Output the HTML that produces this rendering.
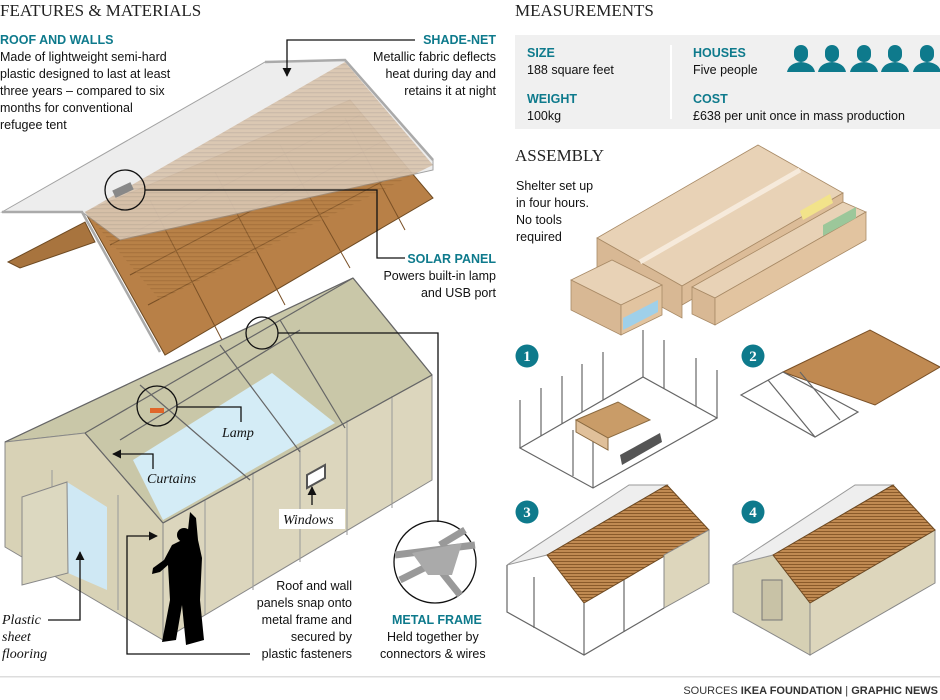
<!DOCTYPE html>
<html><head><meta charset="utf-8"><style>
html,body{margin:0;padding:0;background:#fff;width:940px;height:700px;overflow:hidden}
svg{display:block}
.h{font-family:"Liberation Serif",serif;font-size:17px;fill:#222}
.t{font-family:"Liberation Sans",sans-serif;font-size:12.5px;fill:#111}
.b{font-family:"Liberation Sans",sans-serif;font-size:12.5px;font-weight:bold;fill:#0e7a8c}
.i{font-family:"Liberation Serif",serif;font-style:italic;font-size:14px;fill:#111}
.ln{stroke:#111;stroke-width:1.3;fill:none}
.fr{stroke:#666;stroke-width:1.2;fill:none}
</style></head><body>
<svg width="940" height="700" viewBox="0 0 940 700" xmlns="http://www.w3.org/2000/svg">
<defs>
<marker id="a" viewBox="0 0 10 10" refX="9" refY="5" markerWidth="7" markerHeight="7" orient="auto"><path d="M0,0L10,5L0,10z" fill="#111"/></marker>
<pattern id="st" width="4" height="4" patternUnits="userSpaceOnUse"><rect width="4" height="4" fill="#b98248"/><rect width="4" height="1.3" fill="#8e5f2e"/></pattern>
<pattern id="st2" width="3" height="3" patternUnits="userSpaceOnUse"><rect width="3" height="3" fill="#c08a52"/><rect width="3" height="1" fill="#8a5a2a"/></pattern>
</defs>

<!-- MAIN ROOF -->
<polygon points="8,262 85,222 95,242 20,268" fill="#a8743e" stroke="#6e4a22"/>
<polygon points="85,212 350,100 433,198 165,355" fill="#b88047" stroke="#6e4a22"/>
<g stroke="#7a5026" stroke-width="1" fill="none">
<line x1="110" y1="245" x2="360" y2="115"/><line x1="130" y1="275" x2="385" y2="140"/><line x1="148" y1="305" x2="408" y2="168"/>
<line x1="150" y1="200" x2="222" y2="340"/><line x1="215" y1="172" x2="285" y2="305"/><line x1="280" y1="145" x2="350" y2="268"/><line x1="345" y1="118" x2="405" y2="230"/>
</g>
<polygon points="2,212 265,62 345,60 433,160 433,170 120,240 82,212" fill="#ececec" stroke="#999" opacity="0.9"/>
<polygon points="85,212 345,62 433,165 160,300" fill="url(#st)" opacity="0.35"/>
<polyline points="2,212 82,212 160,352" fill="none" stroke="#aaa" stroke-width="2.5"/>
<polyline points="265,62 345,60 433,160" fill="none" stroke="#aaa" stroke-width="2.5"/>
<rect x="113" y="186" width="20" height="8" fill="#888" transform="rotate(-25 123 190)"/>

<!-- MAIN HOUSE -->
<polygon points="5,442 353,278 432,375 163,523 85,433" fill="#c9c7a8" stroke="#888"/>
<polygon points="133,460 272,373 335,423 163,520" fill="#d4ecf6"/>
<polygon points="163,523 432,375 432,480 163,640" fill="#dcd6bd" stroke="#888"/>
<polygon points="5,442 85,433 163,523 163,640 5,547" fill="#d8d2b6" stroke="#888"/>
<g stroke="#999" stroke-width="1"><line x1="205" y1="500" x2="205" y2="615"/><line x1="253" y1="472" x2="253" y2="590"/><line x1="300" y1="446" x2="300" y2="562"/><line x1="347" y1="420" x2="347" y2="535"/><line x1="392" y1="396" x2="392" y2="508"/><line x1="52" y1="470" x2="52" y2="570"/><line x1="118" y1="495" x2="118" y2="610"/></g>
<g class="fr"><line x1="85" y1="433" x2="353" y2="278"/><line x1="5" y1="442" x2="353" y2="278"/><line x1="163" y1="523" x2="432" y2="375"/><line x1="353" y1="278" x2="432" y2="375"/><line x1="85" y1="433" x2="163" y2="523"/><line x1="140" y1="385" x2="250" y2="480"/><line x1="220" y1="345" x2="300" y2="452"/><line x1="280" y1="320" x2="345" y2="428"/><line x1="120" y1="440" x2="300" y2="330"/></g>
<polygon points="67,482 107,507 107,590 68,573" fill="#cfe8f4"/>
<polygon points="22,497 67,482 68,573 22,585" fill="#dcd8c0" stroke="#888"/>
<polygon points="307,475 325,465 325,478 307,488" fill="#fff" stroke="#555" stroke-width="2"/>
<!-- person -->
<path d="M190,512 L196,518 L198,540 L202,558 L200,600 L204,640 L186,645 L182,605 L176,640 L162,642 L170,600 L168,565 L160,572 L152,574 L153,568 L164,560 L172,545 L182,540 L188,530 Z" fill="#000"/>
<circle cx="184" cy="535" r="7" fill="#000"/>

<!-- callouts left -->
<circle cx="125" cy="190" r="20" class="ln"/>
<polyline class="ln" points="145,190 377,190 377,258 405,258"/>
<polyline class="ln" points="415,40 287,40 287,76" marker-end="url(#a)"/>
<circle cx="262" cy="333" r="16" class="ln"/>
<polyline class="ln" points="278,333 438,333 438,522"/>
<circle cx="157" cy="406" r="20" class="ln"/>
<rect x="150" y="408" width="14" height="5" fill="#e0662a"/>
<polyline class="ln" points="177,407 241,407 241,422"/>
<polyline class="ln" points="153,469 153,454 113,454" marker-end="url(#a)"/>
<polyline class="ln" points="312,505 312,487" marker-end="url(#a)"/>
<polyline class="ln" points="48,620 80,620 80,552" marker-end="url(#a)"/>
<polyline class="ln" points="250,654 127,654 127,536 157,536" marker-end="url(#a)"/>
<circle cx="435" cy="562" r="41" fill="#fff" class="ln"/>
<g stroke="#999" stroke-width="7"><line x1="395" y1="555" x2="475" y2="545"/><line x1="400" y1="580" x2="430" y2="565"/><line x1="440" y1="570" x2="460" y2="595"/><line x1="440" y1="545" x2="465" y2="530"/></g>
<polygon points="412,553 462,543 452,575 428,575" fill="#aaa"/>

<text class="i" x="222" y="437">Lamp</text>
<text class="i" x="147" y="483">Curtains</text>
<rect x="279" y="509" width="66" height="20" fill="#fff"/>
<text class="i" x="283" y="524">Windows</text>
<text class="i" x="2" y="624">Plastic</text><text class="i" x="2" y="641">sheet</text><text class="i" x="2" y="658">flooring</text>
<g text-anchor="end"><text class="t" x="352" y="590">Roof and wall</text><text class="t" x="352" y="607">panels snap onto</text><text class="t" x="352" y="624">metal frame and</text><text class="t" x="352" y="641">secured by</text><text class="t" x="352" y="658">plastic fasteners</text></g>
<text class="b" x="392" y="624">METAL FRAME</text>
<text class="t" x="387" y="641">Held together by</text>
<text class="t" x="380" y="658">connectors &amp; wires</text>

<text class="h" x="0" y="16">FEATURES &amp; MATERIALS</text>
<text class="b" x="0" y="44">ROOF AND WALLS</text>
<text class="t" x="0" y="61">Made of lightweight semi-hard</text>
<text class="t" x="0" y="78">plastic designed to last at least</text>
<text class="t" x="0" y="95">three years – compared to six</text>
<text class="t" x="0" y="112">months for conventional</text>
<text class="t" x="0" y="129">refugee tent</text>
<g text-anchor="end">
<text class="b" x="496" y="44">SHADE-NET</text>
<text class="t" x="496" y="61">Metallic fabric deflects</text>
<text class="t" x="496" y="78">heat during day and</text>
<text class="t" x="496" y="95">retains it at night</text>
<text class="b" x="496" y="263">SOLAR PANEL</text>
<text class="t" x="496" y="280">Powers built-in lamp</text>
<text class="t" x="496" y="297">and USB port</text>
</g>

<!-- MEASUREMENTS -->
<text class="h" x="515" y="16">MEASUREMENTS</text>
<rect x="515" y="35" width="425" height="94" fill="#f0f0f0"/>
<rect x="670" y="45" width="2" height="74" fill="#fff"/>
<text class="b" x="527" y="57">SIZE</text><text class="t" x="527" y="74">188 square feet</text>
<text class="b" x="527" y="103">WEIGHT</text><text class="t" x="527" y="120">100kg</text>
<text class="b" x="693" y="57">HOUSES</text><text class="t" x="693" y="74">Five people</text>
<text class="b" x="693" y="103">COST</text><text class="t" x="693" y="120">£638 per unit once in mass production</text>
<g fill="#0e7a8c">
<g transform="translate(787,0)"><rect x="7" y="45" width="14" height="17" rx="7"/><path d="M0,72 Q2,63 14,62 Q26,63 28,72Z"/></g>
<g transform="translate(818,0)"><rect x="7" y="45" width="14" height="17" rx="7"/><path d="M0,72 Q2,63 14,62 Q26,63 28,72Z"/></g>
<g transform="translate(850,0)"><rect x="7" y="45" width="14" height="17" rx="7"/><path d="M0,72 Q2,63 14,62 Q26,63 28,72Z"/></g>
<g transform="translate(881,0)"><rect x="7" y="45" width="14" height="17" rx="7"/><path d="M0,72 Q2,63 14,62 Q26,63 28,72Z"/></g>
<g transform="translate(913,0)"><rect x="7" y="45" width="14" height="17" rx="7"/><path d="M0,72 Q2,63 14,62 Q26,63 28,72Z"/></g>
</g>

<!-- ASSEMBLY -->
<text class="h" x="515" y="161">ASSEMBLY</text>
<text class="t" x="516" y="190">Shelter set up</text><text class="t" x="516" y="207">in four hours.</text>
<text class="t" x="516" y="224">No tools</text><text class="t" x="516" y="241">required</text>
<g stroke="#a88a66" stroke-width="0.8">
<polygon points="597,238 758,145 843,193 682,286" fill="#e8d2b6"/>
<polygon points="597,238 682,286 682,318 597,272" fill="#d8b894"/>
<polygon points="682,286 843,193 843,212 682,305" fill="#dcbc98"/>
<polygon points="692,287 843,202 866,212 715,298" fill="#e8d2b6"/>
<polygon points="692,287 715,298 715,325 692,314" fill="#d8b894"/>
<polygon points="715,298 866,212 866,240 715,325" fill="#e2c4a0"/>
<polygon points="571,280 612,260 662,285 621,305" fill="#e8d2b6"/>
<polygon points="571,280 621,305 621,335 571,310" fill="#d8b894"/>
<polygon points="621,305 662,285 662,315 621,335" fill="#e2c4a0"/>
</g>
<line x1="640" y1="262" x2="800" y2="170" stroke="#f6eadb" stroke-width="5"/>
<polygon points="800,211 830,194 833,203 803,220" fill="#f2e38a"/>
<polygon points="823,225 856,207 856,218 823,236" fill="#9cc79a"/>
<polygon points="623,318 658,300 658,312 623,330" fill="#9fd0ea"/>

<!-- step 1 -->
<g class="fr" stroke-width="1">
<polygon points="520,448 643,377 717,418 593,488"/>
<line x1="520" y1="448" x2="520" y2="400"/><line x1="541" y1="436" x2="541" y2="388"/><line x1="562" y1="424" x2="562" y2="376"/><line x1="582" y1="412" x2="582" y2="364"/><line x1="603" y1="400" x2="603" y2="352"/><line x1="643" y1="377" x2="643" y2="330"/><line x1="664" y1="389" x2="664" y2="340"/><line x1="696" y1="406" x2="696" y2="358"/><line x1="717" y1="418" x2="717" y2="370"/><line x1="593" y1="488" x2="593" y2="440"/><line x1="573" y1="476" x2="573" y2="430"/>
</g>
<polygon points="576,420 618,402 650,420 608,438" fill="#c99c68" stroke="#8a6a40"/>
<polygon points="576,420 608,438 608,450 576,432" fill="#e0c09a" stroke="#8a6a40"/>
<polygon points="620,455 660,433 662,442 622,465" fill="#555"/>
<!-- step 2 -->
<polygon points="783,372 870,330 940,367 875,405" fill="#c08a52" stroke="#7a5026"/>
<g class="fr" stroke-width="1"><polygon points="741,395 815,437 858,412 783,372"/><line x1="768" y1="380" x2="815" y2="437"/><line x1="800" y1="372" x2="840" y2="420"/></g>
<!-- step 3 -->
<g transform="translate(-226,0)">
<polygon points="733,565 855,485 893,485 773,555" fill="#eee" stroke="#999"/>
<polygon points="773,555 893,485 935,530 810,603" fill="url(#st2)" stroke="#6e4a22"/>
<polygon points="890,555 935,530 935,583 890,608" fill="#ddd6bc" stroke="#888"/>
<g class="fr" stroke-width="1"><polyline points="733,565 733,612 810,655 890,608"/><line x1="810" y1="603" x2="810" y2="655"/><line x1="760" y1="577" x2="760" y2="628"/><line x1="850" y1="580" x2="850" y2="632"/></g>
</g>
<!-- step 4 -->
<polygon points="733,565 773,555 810,603 810,655 733,612" fill="#d6d0b4" stroke="#888"/>
<polygon points="810,603 935,530 935,583 810,655" fill="#ddd6bc" stroke="#888"/>
<rect x="762" y="580" width="20" height="40" fill="#c8c2a6" stroke="#777"/>
<polygon points="733,565 855,485 893,485 773,555" fill="#eee" stroke="#999"/>
<polygon points="773,555 893,485 935,530 810,603" fill="url(#st2)" stroke="#6e4a22"/>

<g fill="#0e7a8c">
<circle cx="527" cy="356" r="11.5"/><circle cx="753" cy="356" r="11.5"/><circle cx="527" cy="512" r="11.5"/><circle cx="753" cy="512" r="11.5"/>
</g>
<g fill="#fff" font-family="Liberation Serif,serif" font-weight="bold" font-size="15" text-anchor="middle">
<text x="527" y="361">1</text><text x="753" y="361">2</text><text x="527" y="517">3</text><text x="753" y="517">4</text>
</g>

<rect x="0" y="676" width="940" height="1.5" fill="#ddd"/>
<text x="938" y="694" text-anchor="end" font-family="Liberation Sans,sans-serif" font-size="11" fill="#333">SOURCES <tspan font-weight="bold">IKEA FOUNDATION</tspan> | <tspan font-weight="bold">GRAPHIC NEWS</tspan></text>
</svg>
</body></html>
